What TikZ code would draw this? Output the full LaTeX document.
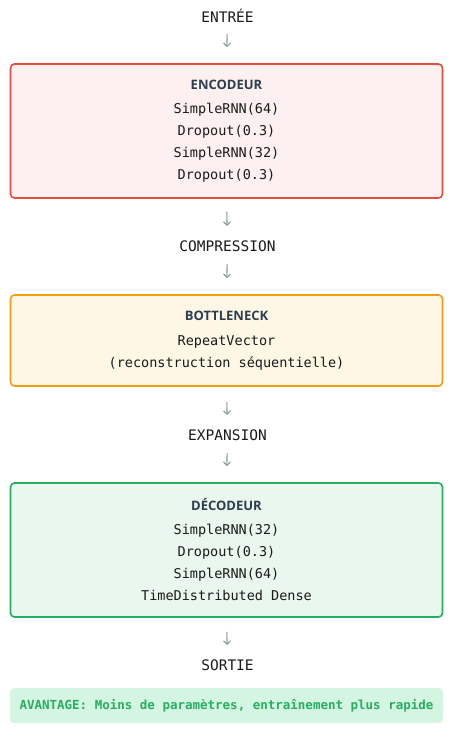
\documentclass[tikz,border=0pt]{standalone}
\usepackage{fontspec}
\setmonofont{DejaVu Sans Mono}
\newfontfamily\titlefont{Open Sans}
\usetikzlibrary{arrows.meta}
\definecolor{encline}{HTML}{E74C3C}
\definecolor{encfill}{HTML}{FCF1F0}
\definecolor{botline}{HTML}{F39C12}
\definecolor{botfill}{HTML}{FEF7E6}
\definecolor{decline}{HTML}{27AE60}
\definecolor{decfill}{HTML}{E9F7EF}
\definecolor{advfill}{HTML}{D5F5E3}
\definecolor{arrgray}{HTML}{8E9A9C}
\definecolor{titlecol}{HTML}{2C3E50}
\definecolor{txtcol}{HTML}{1A1A1A}
\tikzset{
  lbl/.style={font=\fontsize{14.5}{17}\selectfont\ttfamily, text=txtcol, inner sep=0pt},
  stage/.style={rounded corners=4pt, line width=1.6pt, minimum width=432pt, align=center,
    inner sep=0pt, text=txtcol, font=\fontsize{13.5}{22}\selectfont\ttfamily},
  arr/.style={draw=arrgray, line width=1.1pt, -{Straight Barb[length=3.5pt,width=7pt,line width=1.1pt]}},
  ttl/.style={}
}
\newcommand{\boxtitle}[1]{{\titlefont\bfseries\fontsize{13}{15}\selectfont\color{titlecol}#1}}
\begin{document}
\begin{tikzpicture}[x=1pt,y=1pt]
\useasboundingbox (0,0) rectangle (455,-735);
\node[lbl] (entree) at (227.5,-16) {ENTRÉE};
\node[stage, draw=encline, fill=encfill, minimum height=134pt] (enc) at (226.5,-131)
  {\boxtitle{ENCODEUR}\\[2pt]SimpleRNN(64)\\Dropout(0.3)\\SimpleRNN(32)\\Dropout(0.3)};
\node[lbl] (comp) at (227.5,-246) {COMPRESSION};
\node[stage, draw=botline, fill=botfill, minimum height=91pt] (bot) at (226.5,-340.5)
  {\boxtitle{BOTTLENECK}\\[3pt]RepeatVector\\(reconstruction séquentielle)};
\node[lbl] (exp) at (227.5,-435) {EXPANSION};
\node[stage, draw=decline, fill=decfill, minimum height=134pt] (dec) at (226.5,-550)
  {\boxtitle{DÉCODEUR}\\[2pt]SimpleRNN(32)\\Dropout(0.3)\\SimpleRNN(64)\\TimeDistributed Dense};
\node[lbl] (sortie) at (227.5,-665) {SORTIE};
\node[rounded corners=4pt, fill=advfill, minimum width=433pt, minimum height=35pt, inner sep=0pt,
  text=decline, font=\fontsize{12.5}{15}\selectfont\ttfamily\bfseries] (adv) at (226.5,-705.5)
  {AVANTAGE: Moins de paramètres, entraînement plus rapide};
\draw[arr, shorten <=18pt, shorten >=16pt] (entree.center) -- (enc.north);
\draw[arr, shorten <=13pt, shorten >=20pt] (enc.south) -- (comp.center);
\draw[arr, shorten <=18pt, shorten >=16pt] (comp.center) -- (bot.north);
\draw[arr, shorten <=15pt, shorten >=20pt] (bot.south) -- (exp.center);
\draw[arr, shorten <=18pt, shorten >=16pt] (exp.center) -- (dec.north);
\draw[arr, shorten <=14pt, shorten >=20pt] (dec.south) -- (sortie.center);
\end{tikzpicture}
\end{document}
